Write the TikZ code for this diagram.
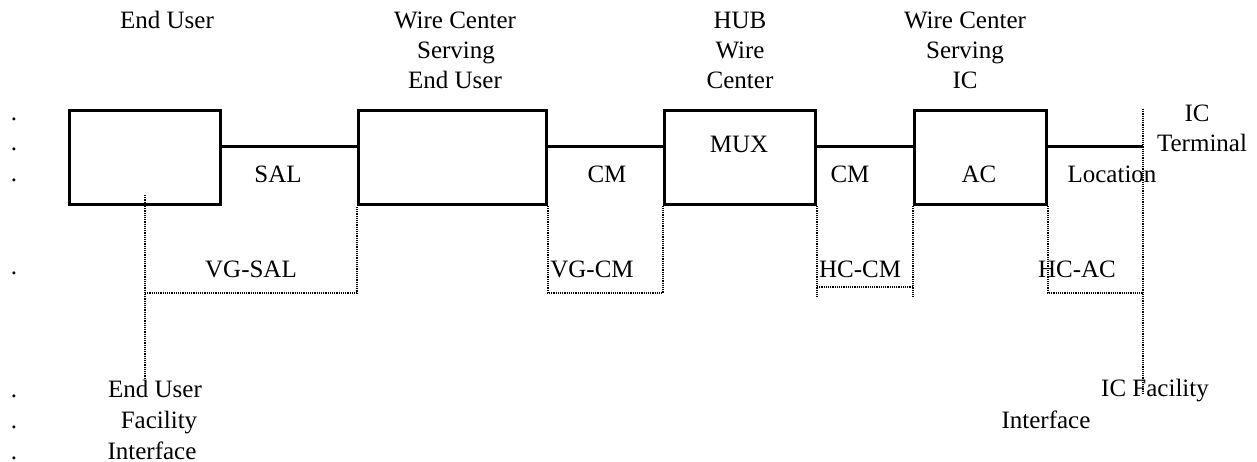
\documentclass[tikz,border=0pt]{standalone}
\usepackage{fontspec}
\setmainfont{Liberation Serif}
\begin{document}
\begin{tikzpicture}[x=1pt,y=-1pt,
  blk/.style={draw,line width=3pt,minimum width=#1,minimum height=94pt,inner sep=0pt},
  lnk/.style={line width=3pt},
  dotl/.style={line width=1.2pt,dash pattern=on 1.2pt off 1pt,black},
  txt/.style={inner sep=0pt,anchor=base,font=\fontsize{25}{29}\selectfont}]
\useasboundingbox (0,0) rectangle (1257,462);
% boxes
\node[blk=151pt] (b1) at (145,157.5) {};
\node[blk=188pt] (b2) at (452.5,157.5) {};
\node[blk=151pt] (b3) at (740,157.5) {};
\node[blk=132pt] (b4) at (980.5,157.5) {};
% coordinates
\coordinate (icT) at (1143,109);
\coordinate (icB) at (1143,395);
\coordinate (icL) at (1143,147);
\coordinate (euT) at (145,195);
\coordinate (euB) at (145,378);
\coordinate (euM) at (145,293);
\coordinate (s1) at (357,293);
\coordinate (s2) at (548,293);
\coordinate (s3) at (663,293);
\coordinate (h1) at (817,297);
\coordinate (h1m) at (817,287);
\coordinate (h2) at (913,297);
\coordinate (h2m) at (913,287);
\coordinate (a1) at (1048,293);
\coordinate (a2) at (1143,293);
% solid links
\draw[lnk] ([yshift=10.5pt]b1.east) -- ([yshift=10.5pt]b2.west);
\draw[lnk] ([yshift=10.5pt]b2.east) -- ([yshift=10.5pt]b3.west);
\draw[lnk] ([yshift=10.5pt]b3.east) -- ([yshift=10.5pt]b4.west);
\draw[lnk] ([yshift=10.5pt]b4.east) -- (icL);
% dotted
\draw[dotl] (euT) -- (euB);
\draw[dotl] (euM) -- (s1) -- (b2.south west);
\draw[dotl] (b2.south east) -- (s2) -- (s3) -- (b3.south west);
\draw[dotl] (b3.south east) -- (h1);
\draw[dotl] (h1m) -- (h2m);
\draw[dotl] (b4.south west) -- (h2);
\draw[dotl] (b4.south east) -- (a1) -- (a2);
\draw[dotl] (icT) -- (icB);
% top labels
\node[txt] (t1) at (167,29) {End User};
\node[txt] (t2a) at (455,29) {Wire Center};
\node[txt] (t2b) at (456,59) {Serving};
\node[txt] (t2c) at (455,89) {End User};
\node[txt] (t3a) at (740,29) {HUB};
\node[txt] (t3b) at (740,59) {Wire};
\node[txt] (t3c) at (740,89) {Center};
\node[txt] (t4a) at (965,29) {Wire Center};
\node[txt] (t4b) at (965,59) {Serving};
\node[txt] (t4c) at (965,89) {IC};
\node[txt] (ic1) at (1197,122) {IC};
\node[txt] (ic2) at (1202,152) {Terminal};
% inner labels
\node[txt] (mux) at (739,153) {MUX};
\node[txt] (sal) at (278,183) {SAL};
\node[txt] (cm1) at (607,183) {CM};
\node[txt] (cm2) at (850,183) {CM};
\node[txt] (ac) at (979,183) {AC};
\node[txt] (loc) at (1112,183) {Location};
\node[txt] (vgsal) at (251,277) {VG-SAL};
\node[txt] (vgcm) at (592,277) {VG-CM};
\node[txt] (hccm) at (860,277) {HC-CM};
\node[txt] (hcac) at (1077,277) {HC-AC};
% bottom labels
\node[txt] (eb1) at (155,397) {End User};
\node[txt] (eb2) at (159,428) {Facility};
\node[txt] (eb3) at (152,459) {Interface};
\node[txt] (icf) at (1155,396) {IC Facility};
\node[txt] (ici) at (1046,428) {Interface};
% left dots
\node[txt] (d1) at (14,121) {.};
\node[txt] (d2) at (14,151) {.};
\node[txt] (d3) at (14,182) {.};
\node[txt] (d4) at (14,274) {.};
\node[txt] (d5) at (14,397) {.};
\node[txt] (d6) at (14,428) {.};
\node[txt] (d7) at (14,459) {.};
\end{tikzpicture}
\end{document}
